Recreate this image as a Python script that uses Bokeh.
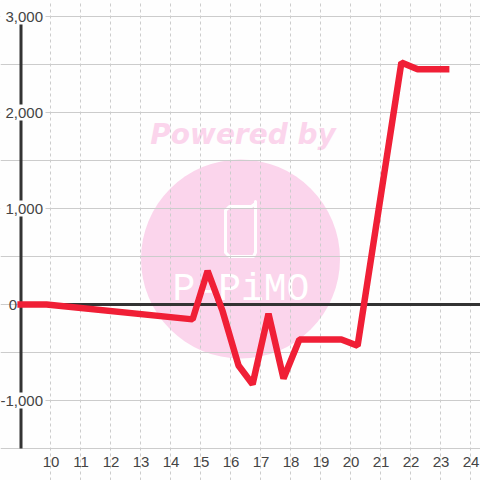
from bokeh.plotting import figure
from bokeh.models import LinearAxis, Grid, FixedTicker, NumeralTickFormatter, Range1d
from bokeh.core.properties import value
from bokeh.embed import file_html
from bokeh.resources import INLINE

# Chart data
hours = [8.88, 9.85, 14.72, 15.22, 15.72, 16.25, 16.72, 17.25, 17.75, 18.28, 19.68, 20.22, 21.68, 22.22, 23.28]
amounts = [0, 0, -155, 350, -70, -635, -830, -95, -770, -365, -365, -430, 2520, 2450, 2450]
x_ticks = list(range(10, 25))
y_labelled = [-1000, 1000, 2000, 3000]
y_zero = [0]
y_grid_ticks = [-1500, -1000, -500, 0, 500, 1000, 1500, 2000, 2500, 3000]

X0, X1 = 8.3167, 24.3167
Y0, Y1 = -1833.333, 3166.667
AXIS_X = 9.0
Y_MIN, Y_MAX = -1500, 3000

def dx(px):
    return X0 + px / 30.0

def dy(py):
    return Y1 - py / 0.096

p = figure(width=480, height=480, output_backend="svg", toolbar_location=None,
           x_range=Range1d(X0, X1), y_range=Range1d(Y0, Y1),
           x_axis_type=None, y_axis_type=None,
           min_border=0, min_border_left=0, min_border_right=0, min_border_top=0, min_border_bottom=0,
           outline_line_color=None, background_fill_color="#fefefe", border_fill_color="#fefefe",
           margin=(0, 0, 0, 0))

# Watermark
PINK = "#fbd5ec"
p.scatter([dx(240)], [dy(258.5)], size=199, color=PINK, line_color=None, level="image")
p.text([dx(242.5)], [dy(134)], text=["Powered by"], text_font=value("DejaVu Sans"), text_font_style="bold italic",
       text_font_size="28px", text_color=PINK, text_align="center", text_baseline="middle", level="image")
icon_x = [255, 255, 253, 253, 252, 229, 225, 225, 229, 251, 255, 255]
icon_y = [201, 252, 256, 256, 256, 256, 252, 210, 206, 206, 203, 201]
p.line([dx(v) for v in icon_x], [dy(v) for v in icon_y], line_color="white", line_width=3,
       line_join="round", line_cap="round", level="image")
p.text([dx(240.5)], [dy(289)], text=["PAPiMO"], text_font=value("Liberation Mono"),
       text_font_size="38px", text_color="white", text_align="center", text_baseline="middle", level="image")

# Grids
xgrid = Grid(dimension=0, ticker=FixedTicker(ticks=x_ticks), grid_line_color="#cccccc", grid_line_width=1,
             grid_line_dash="3 3", bounds=(Y_MIN, Y_MAX))
ygrid = Grid(dimension=1, ticker=FixedTicker(ticks=y_grid_ticks), grid_line_color="#cccccc", grid_line_width=1,
             bounds=(AXIS_X, X1))
p.add_layout(xgrid, "center")
p.add_layout(ygrid, "center")

# Axis line and zero line
p.segment([AXIS_X], [Y_MIN], [AXIS_X], [Y_MAX], line_color="#333333", line_width=3)
p.segment([AXIS_X], [0], [X1], [0], line_color="#333333", line_width=3)

# White label plates that interrupt the axis and grid lines
p.rect([dx(22.5)] * len(y_labelled), y_labelled, width=45, height=16,
       width_units="screen", height_units="screen", fill_color="#fefefe", line_color=None)

# Series
p.line(hours, amounts, line_color="#f01f36", line_width=6.5, line_join="bevel", line_cap="butt")

# Axes
x_axis = LinearAxis(ticker=FixedTicker(ticks=x_ticks), fixed_location=Y_MIN, axis_line_color=None,
                    major_tick_line_color=None, minor_tick_line_color=None,
                    major_tick_out=0, major_tick_in=0, major_label_standoff=8,
                    major_label_text_font="Liberation Sans", major_label_text_font_size="15px",
                    major_label_text_color="#444444")
p.add_layout(x_axis, "below")

for ticks, standoff in ((y_labelled, -22), (y_zero, 4)):
    y_axis = LinearAxis(ticker=FixedTicker(ticks=ticks), fixed_location=AXIS_X, axis_line_color=None,
                        major_tick_line_color=None, minor_tick_line_color=None,
                        major_tick_out=0, major_tick_in=0, major_label_standoff=standoff,
                        formatter=NumeralTickFormatter(format="0,0"),
                        major_label_text_font="Liberation Sans", major_label_text_font_size="15px",
                        major_label_text_color="#444444")
    p.add_layout(y_axis, "left")

open("out.html", "w").write(file_html(p, INLINE))
